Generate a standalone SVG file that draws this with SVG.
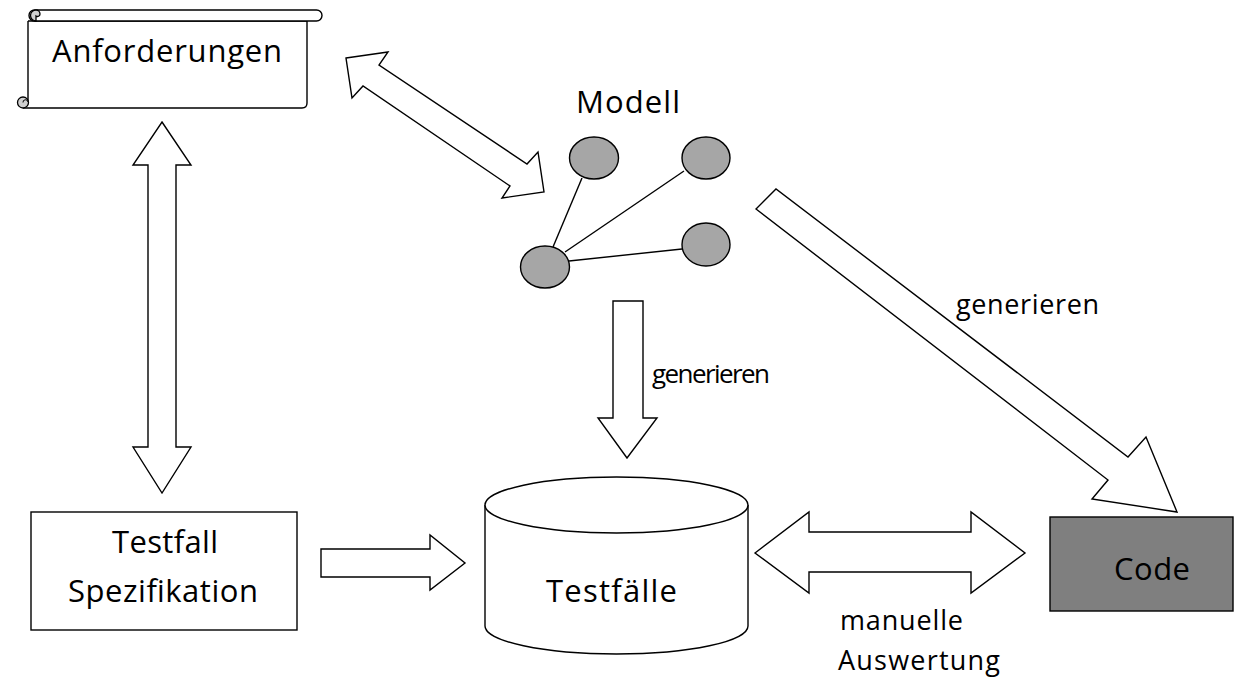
<svg xmlns="http://www.w3.org/2000/svg" width="1236" height="679" viewBox="0 0 1236 679">
<style>
.ln{fill:none;stroke:#000;stroke-width:1.4;stroke-linejoin:miter}
.blk{fill:#fff;stroke:#000;stroke-width:1.4;stroke-linejoin:miter}
.nd{fill:#a6a6a6;stroke:#000;stroke-width:1.4}
.big{font-family:"Open Sans","Liberation Sans",sans-serif;font-size:31px;fill:#000}
.sm{font-family:"Open Sans","Liberation Sans",sans-serif;font-size:27px;fill:#000}
</style>
<rect width="1236" height="679" fill="#fff"/>

<g id="anforderungen">
  <path class="blk" d="M28,21 V102 M28,21 H307 V103 Q307,108 302,108 H23"/>
  <rect class="blk" x="29" y="10" width="293" height="11" rx="5.5"/>
  <path d="M36,21 A5.5,5.5 0 0 1 36,10 A4,4 0 0 1 40,14 A2.5,2.5 0 0 1 36,16 Z" fill="#d0d0d0" stroke="#000" stroke-width="1.3"/>
  <circle cx="23" cy="102.5" r="5.5" fill="#d0d0d0" stroke="#000" stroke-width="1.3"/>
  <path d="M23,102.5 A2.5,2.5 0 0 1 28,102" fill="none" stroke="#000" stroke-width="1"/>
  <text class="big" x="52" y="62" textLength="230" lengthAdjust="spacing">Anforderungen</text>
</g>

<g id="modell">
  <text class="big" x="576" y="113" textLength="104" lengthAdjust="spacing">Modell</text>
  <line class="ln" x1="553" y1="247" x2="582" y2="178"/>
  <line class="ln" x1="565" y1="252" x2="684" y2="171"/>
  <line class="ln" x1="569" y1="261" x2="682" y2="249"/>
  <ellipse class="nd" cx="594" cy="158" rx="24.5" ry="21"/>
  <ellipse class="nd" cx="706" cy="158" rx="24" ry="21"/>
  <ellipse class="nd" cx="706" cy="244.5" rx="24" ry="21.5"/>
  <ellipse class="nd" cx="545" cy="267" rx="24.5" ry="21"/>
</g>

<g id="testfall-spezifikation">
  <rect class="blk" x="31" y="512" width="266" height="118"/>
  <text class="big" x="112" y="553" textLength="106" lengthAdjust="spacing">Testfall</text>
  <text class="big" x="68" y="602" textLength="190" lengthAdjust="spacing">Spezifikation</text>
</g>

<g id="testfaelle">
  <path class="blk" d="M485,505 V626 A131.5,28 0 0 0 748,626 V505"/>
  <ellipse class="blk" cx="616.5" cy="505" rx="131.5" ry="28"/>
  <text class="big" x="546" y="602" textLength="131" lengthAdjust="spacing">Testfälle</text>
</g>

<g id="code">
  <rect x="1050" y="517" width="183" height="94" fill="#7f7f7f" stroke="#000" stroke-width="1.4"/>
  <text class="big" x="1114" y="580" textLength="76" lengthAdjust="spacing">Code</text>
</g>

<g id="connectors">
  <polygon class="blk" points="162,122 191,165 176,165 176,447 191,447 162,493 133,447 148,447 148,165 133,165"/>
  <polygon class="blk" points="346,58 388,52 379,65 527,164 538,152 544,192 502,198 510,186 363,86 352,98"/>
  <polygon class="blk" points="613,301 643,301 643,418 657,418 627,458 598,418 613,418"/>
  <polygon class="blk" points="756,209 776,189 1128,457 1146,437 1177,512 1092,499 1108,480"/>
  <polygon class="blk" points="321,549 430,549 430,535 465,563 430,590 430,577 321,577"/>
  <polygon class="blk" points="755,553 809,512 809,532 971,532 971,512 1025,553 971,593 971,572 809,572 809,593"/>
  <text class="sm" x="652" y="383" style="font-size:26px" textLength="118" lengthAdjust="spacing">generieren</text>
  <text class="sm" x="956" y="314" textLength="143" lengthAdjust="spacing">generieren</text>
  <text class="sm" x="840" y="630" textLength="123" lengthAdjust="spacing">manuelle</text>
  <text class="sm" x="838" y="670" textLength="162" lengthAdjust="spacing">Auswertung</text>
</g>
</svg>
